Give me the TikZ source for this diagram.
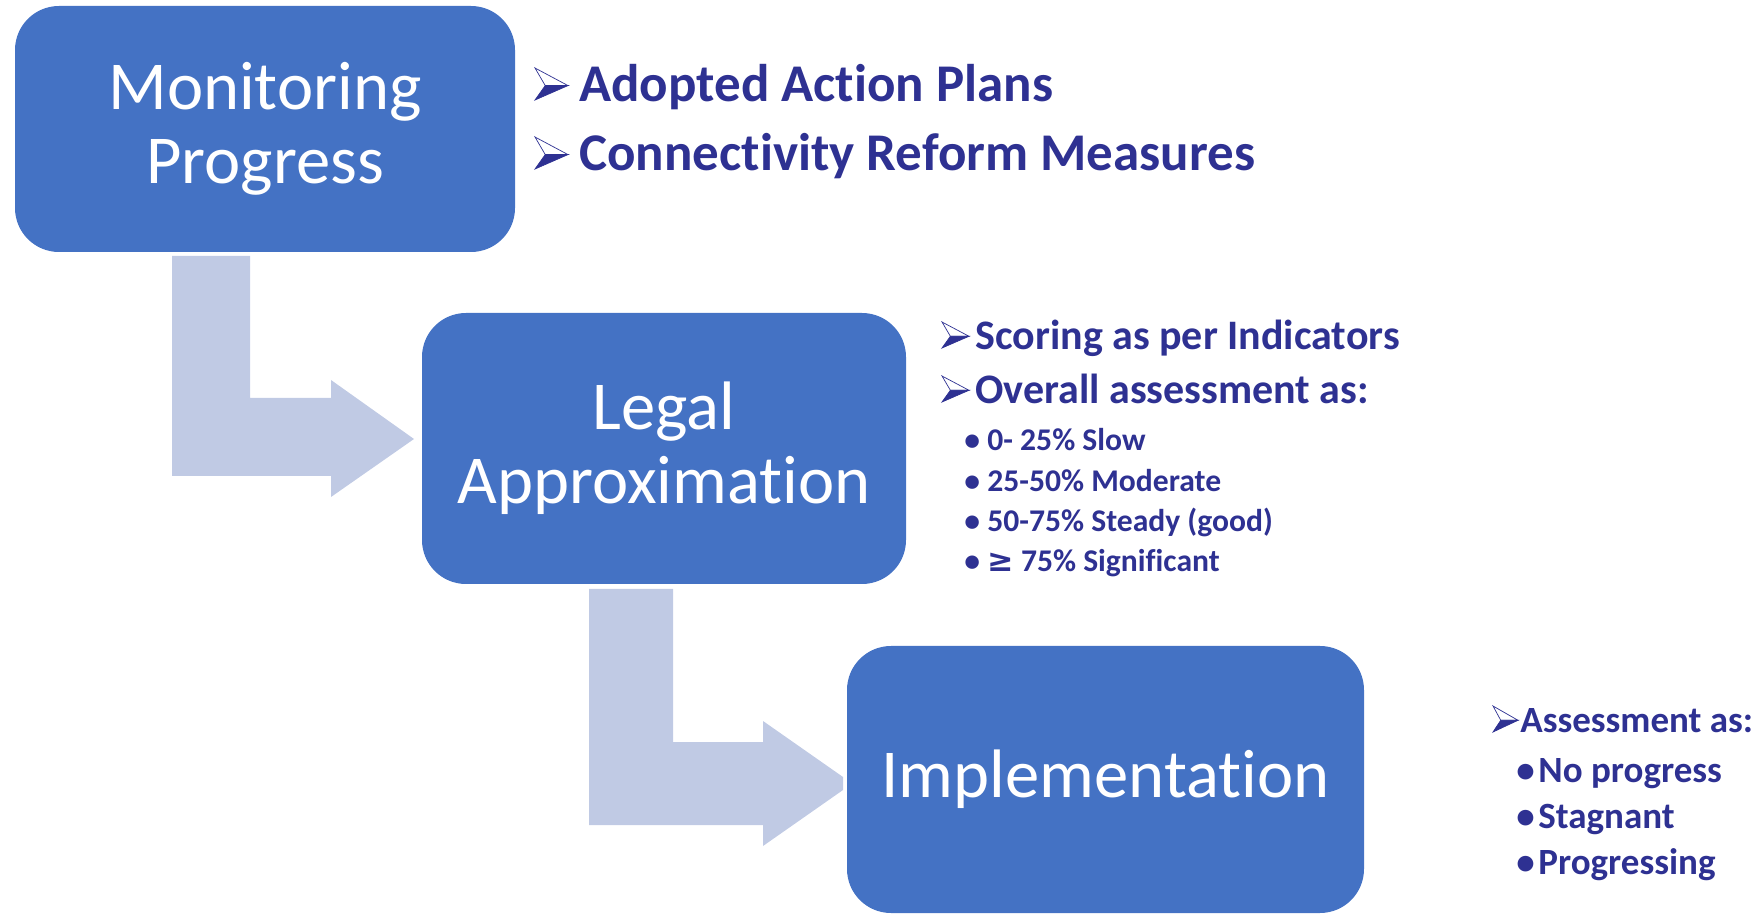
\documentclass[tikz,border=0pt]{standalone}
\usepackage{fontspec}
\setmainfont{Carlito}[Ligatures=NoCommon]
\newfontfamily\djv{DejaVu Sans}
\usetikzlibrary{calc}
\definecolor{boxblue}{RGB}{68,114,196}
\definecolor{arrowfill}{RGB}{192,202,228}
\definecolor{navy}{RGB}{46,49,146}
\newcommand{\dotbul}[1]{\makebox[#1][l]{•}}
\begin{document}
\begin{tikzpicture}[x=0.5pt,y=-0.5pt,
  stage/.style={fill=boxblue, draw=none, rounded corners=22pt, text=white, align=center,
    font=\fontsize{34.3}{37}\selectfont, inner sep=0pt},
  bent/.style={fill=arrowfill, draw=none},
  lvlA/.style={text=navy, anchor=base west, inner sep=0pt, font=\bfseries\fontsize{26.5}{30}\selectfont},
  lvlB/.style={text=navy, anchor=base west, inner sep=0pt, font=\bfseries\fontsize{21}{25}\selectfont},
  lvlC/.style={text=navy, anchor=base west, inner sep=0pt, font=\bfseries\fontsize{15.8}{19}\selectfont},
  lvlD/.style={text=navy, anchor=base west, inner sep=0pt, font=\bfseries\fontsize{18.5}{22}\selectfont},
  dart/.pic={
    \path[draw=navy, fill=white, line width=0.35pt, line join=miter] (0,-1) -- (1,-0.45) -- (0.31,-0.45) -- cycle;
    \path[draw=navy, fill=navy, line width=0.35pt, line join=miter] (0.31,-0.45) -- (1,-0.45) -- (0,0) -- cycle;
  }]
\useasboundingbox (0,0) rectangle (1763,914);

% bent block arrows
\fill[bent] (172,256) -- (250,256) -- (250,398) -- (331,398) -- (331,380) -- (414,439)
  -- (331,497) -- (331,476) -- (172,476) -- cycle;
\fill[bent] (589,589) -- (673,589) -- (673,742) -- (763,742) -- (763,721) -- (843,777)
  -- (843,790) -- (763,846) -- (763,825) -- (589,825) -- cycle;

% stages
\node[stage, minimum width=250pt, minimum height=123pt] (mon) at (265,129) {Monitoring\\Progress};
\node[stage, minimum width=242pt, minimum height=135.5pt] (leg) at (664,448.5) {Legal\\Approximation};
\node[stage, minimum width=258.5pt, minimum height=133.5pt] (imp) at (1105.5,779.5) {Implementation};

% lists
\node[lvlA] (t1) at (579,102) {Adopted Action Plans};
\node[lvlA] (t2) at (579,171) {Connectivity Reform Measures};
\pic[xscale=33, yscale=32] at ($(t1.base west)+(-44,-2)$) {dart};
\pic[xscale=33, yscale=32] at ($(t2.base west)+(-44,-2)$) {dart};

\node[lvlB] (s1) at (975,350) {Scoring as per Indicators};
\node[lvlB] (s2) at (975,404) {Overall assessment as:};
\pic[xscale=27, yscale=26] at ($(s1.base west)+(-33,-2)$) {dart};
\pic[xscale=27, yscale=26] at ($(s2.base west)+(-33,-2)$) {dart};
\node[lvlC] (b1) at (964,451) {\dotbul{11.5pt}0- 25\% Slow};
\node[lvlC] (b2) at (964,492) {\dotbul{11.5pt}25-50\% Moderate};
\node[lvlC] (b3) at (964,532) {\dotbul{11.5pt}50-75\% Steady (good)};
\node[lvlC] (b4) at (964,572) {\dotbul{11.5pt}{\djv ≥} 75\% Significant};

\node[lvlD] (i0) at (1520,733) {Assessment as:};
\pic[xscale=25, yscale=26] at ($(i0.base west)+(-27,-1)$) {dart};
\node[lvlD] (i1) at (1516,782) {\dotbul{11pt}No progress};
\node[lvlD] (i2) at (1516,828) {\dotbul{11pt}Stagnant};
\node[lvlD] (i3) at (1516,874) {\dotbul{11pt}Progressing};
\end{tikzpicture}
\end{document}
